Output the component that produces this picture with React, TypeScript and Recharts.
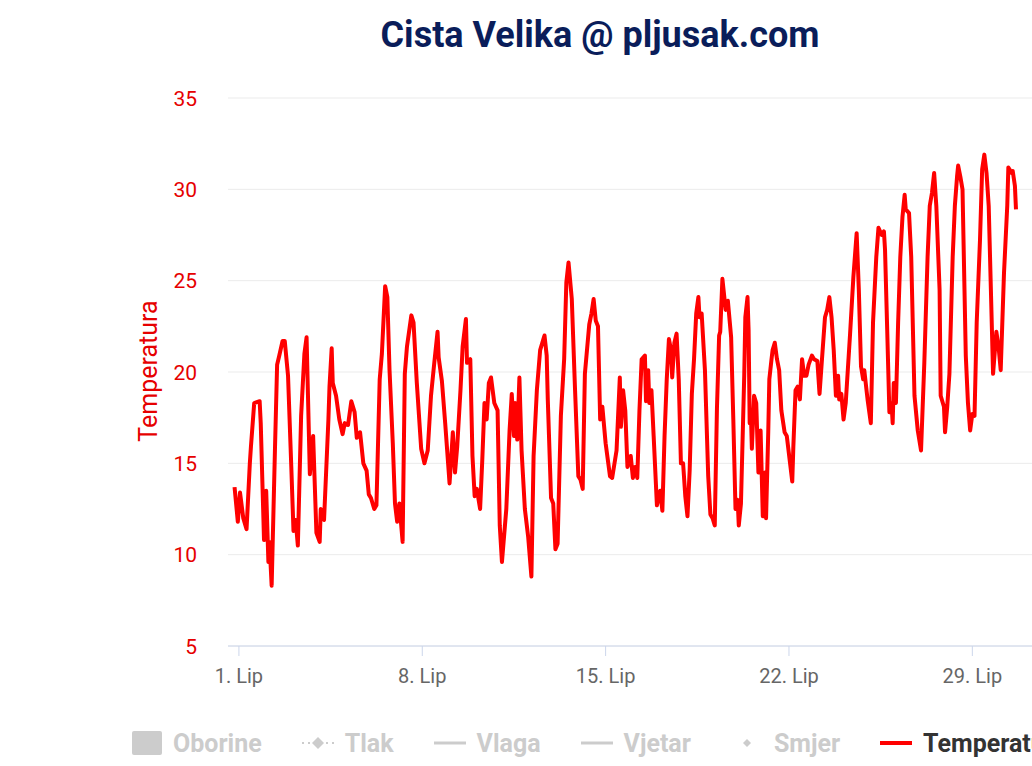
import React from 'react';
import { LineChart, Line, XAxis, YAxis, CartesianGrid } from 'recharts';

// hours since 1 June 00:00, and temperature (°C)
const hours = [
  -4, -1, 1, 4, 7, 10, 11, 14, 19, 20,
  23, 25, 27, 28, 30, 33, 35, 37, 40, 42,
  45, 48, 50, 52, 54, 57, 60, 62, 65, 68,
  71, 74, 75, 78, 82, 83, 85, 86, 89, 92,
  95, 97, 100, 103, 106, 108, 111, 114, 117, 119,
  121, 124, 126, 129, 131, 134, 136, 138, 141, 143,
  145, 147, 150, 152, 154, 158, 160, 163, 167, 170,
  173, 176, 179, 182, 183, 186, 189, 193, 194, 196,
  198, 200, 203, 205, 208, 209, 212, 214, 216, 218,
  221, 223, 225, 227, 229, 231, 234, 237, 239, 241,
  245, 248, 250, 252, 253, 255, 257, 259, 262, 265,
  268, 270, 273, 276, 279, 280, 282, 283, 286, 288,
  290, 292, 295, 298, 300, 302, 305, 308, 311, 313,
  315, 317, 321, 323, 325, 327, 329, 331, 333, 336,
  340, 342, 346, 349, 350, 352, 354, 356, 359, 361,
  363, 365, 367, 369, 372, 373, 375, 376, 378, 380,
  383, 386, 388, 390, 392, 394, 396, 397, 399, 401,
  403, 405, 407, 409, 411, 413, 415, 417, 419, 421,
  422, 424, 427, 430, 432, 434, 436, 438, 440, 441,
  443, 446, 448, 451, 453, 455, 457, 458, 460, 463,
  464, 466, 467, 468, 469, 470, 472, 474, 476, 478,
  480, 482, 483, 485, 486, 488, 489, 491, 493, 495,
  497, 500, 502, 505, 507, 508, 510, 512, 514, 516,
  518, 520, 522, 525, 527, 530, 532, 534, 537, 539,
  541, 543, 545, 547, 549, 550, 552, 554, 556, 560,
  563, 566, 568, 570, 572, 573, 576, 579, 581, 584,
  586, 589, 591, 592, 594, 596, 598, 599, 600, 602,
  604, 606, 608, 610, 611, 614, 616, 619, 622, 625,
  628, 631, 633, 635, 637, 639, 642, 643, 646, 647,
  649, 651, 654, 656, 658, 659, 661, 663, 666, 668,
  670, 672, 674, 676, 679, 681, 683, 685, 687, 689,
  691, 694, 696, 698, 701, 704, 705, 708, 709, 711, 712,
];

const temps = [
  13.7, 11.8, 13.4, 12.0, 11.4, 15.0, 15.9, 18.3, 18.4, 17.2,
  10.8, 13.5, 9.6, 10.7, 8.3, 15.7, 20.4, 20.9, 21.7, 21.7,
  19.8, 14.8, 11.3, 11.9, 10.5, 17.6, 21.0, 21.9, 14.4, 16.5,
  11.2, 10.7, 12.5, 11.9, 17.4, 19.2, 21.3, 19.4, 18.7, 17.4,
  16.6, 17.2, 17.1, 18.4, 17.8, 16.4, 16.7, 15.0, 14.6, 13.3,
  13.1, 12.5, 12.7, 19.6, 21.0, 24.7, 24.1, 20.1, 16.1, 12.8,
  11.8, 12.8, 10.7, 19.9, 21.4, 23.1, 22.7, 19.4, 15.8, 15.0,
  15.7, 18.7, 20.5, 22.2, 20.8, 19.5, 17.2, 13.9, 14.8, 16.7,
  14.5, 15.9, 19.0, 21.4, 22.9, 20.5, 20.7, 15.4, 13.2, 13.6,
  12.5, 15.2, 18.3, 17.4, 19.4, 19.7, 18.3, 17.9, 11.6, 9.6,
  12.5, 16.8, 18.8, 16.5, 18.3, 16.3, 19.7, 15.7, 12.5, 11.0,
  8.8, 15.4, 19.0, 21.2, 21.8, 22.0, 20.9, 18.5, 13.1, 12.8,
  10.3, 10.6, 17.6, 20.7, 24.9, 26.0, 24.0, 19.0, 14.3, 14.1,
  13.6, 19.9, 22.6, 23.2, 24.0, 22.8, 22.5, 17.4, 18.1, 16.1,
  14.3, 14.2, 15.7, 19.7, 17.0, 19.0, 17.9, 14.8, 15.4, 14.2,
  14.8, 14.2, 17.9, 20.7, 20.9, 18.4, 20.1, 18.3, 19.0, 16.5,
  12.7, 13.5, 12.4, 16.5, 19.6, 21.8, 21.2, 19.7, 21.6, 22.1,
  19.6, 15.0, 15.0, 13.2, 12.1, 14.6, 18.8, 20.7, 23.2, 24.1,
  23.0, 23.2, 20.1, 14.3, 12.2, 12.0, 11.6, 18.0, 22.0, 22.2,
  25.1, 23.4, 23.9, 21.9, 17.4, 12.5, 13.0, 11.6, 12.8, 19.8,
  23.0, 24.1, 22.3, 17.2, 17.9, 15.8, 18.7, 18.3, 14.5, 16.8,
  12.1, 14.5, 12.0, 16.7, 19.6, 20.7, 21.2, 21.6, 20.7, 20.1,
  17.9, 16.7, 16.5, 15.0, 14.0, 15.9, 19.0, 19.2, 18.5, 20.7,
  19.8, 19.8, 20.4, 20.9, 20.7, 20.6, 18.8, 20.5, 23.0, 23.4,
  24.1, 23.0, 21.2, 18.7, 19.8, 18.5, 18.8, 17.4, 18.3, 22.1,
  25.2, 27.6, 24.5, 20.3, 19.6, 20.1, 18.5, 17.2, 22.7, 26.3,
  27.9, 27.5, 27.7, 26.7, 22.3, 17.8, 18.3, 17.2, 19.4, 18.3,
  22.7, 26.3, 28.5, 29.7, 28.9, 28.7, 26.3, 18.7, 16.8, 15.7,
  20.5, 26.3, 29.1, 29.8, 30.9, 29.1, 24.5, 18.7, 18.1, 16.7,
  18.1, 19.9, 26.3, 29.1, 30.7, 31.3, 30.7, 30.0, 20.9, 18.3,
  16.8, 17.7, 17.6, 22.7, 27.2, 31.1, 31.9, 30.9, 29.1, 24.5,
  19.9, 22.2, 21.4, 20.1, 25.4, 29.1, 31.2, 30.9, 31.0, 30.2, 28.9,
];

const monthLabel = 'Lip';
const xTicks = [0, 168, 336, 504, 672];
const yTicks = [5, 10, 15, 20, 25, 30, 35];
const legendNames = ['Oborine', 'Tlak', 'Vlaga', 'Vjetar', 'Smjer', 'Temperatura'];
const legendKinds = ['column', 'dotline', 'line', 'line', 'diamond', 'line'];

const data = hours.map((h, i) => ({ h, t: temps[i] }));

const FONT = 'Roboto, "Liberation Sans", sans-serif';
const RED = '#f00';
const AXIS_RED = '#e60000';
const HIDDEN = '#cccccc';

function LegendSymbol({ kind, color }: { kind: string; color: string }) {
  if (kind === 'column') {
    return (
      <svg width={30} height={24}>
        <rect x={0} y={0} width={30} height={24} rx={2} fill={color} />
      </svg>
    );
  }
  return (
    <svg width={32} height={14}>
      {kind === 'dotline' && (
        <line x1={0} x2={32} y1={7} y2={7} stroke={color} strokeWidth={2} strokeDasharray="2 4" />
      )}
      {kind === 'line' && <line x1={0} x2={32} y1={7} y2={7} stroke={color} strokeWidth={color === RED ? 4 : 3} />}
      {(kind === 'dotline' || kind === 'diamond') && (
        <path d={kind === 'dotline' ? 'M16 1 L22 7 L16 13 L10 7 Z' : 'M16 3 L20 7 L16 11 L12 7 Z'} fill={color} />
      )}
    </svg>
  );
}

const YTick = ({ y, payload }: any) => (
  <text x={197} y={y} dy={7.5} textAnchor="end" fill={AXIS_RED} fontSize={21} fontFamily={FONT}>
    {payload.value}
  </text>
);

export default function App() {
  return (
    <div
      style={{
        position: 'absolute',
        left: 0,
        top: 0,
        width: 1032,
        height: 766,
        overflow: 'hidden',
        background: '#fff',
        fontFamily: FONT,
      }}
    >
      <div
        style={{
          position: 'absolute',
          left: 0,
          top: 17,
          width: 1200,
          textAlign: 'center',
          fontSize: 36,
          lineHeight: '36px',
          fontWeight: 700,
          color: '#0a1d5a',
        }}
      >
        Cista Velika @ pljusak.com
      </div>
      <div style={{ position: 'absolute', left: 0, top: 0 }}>
        <LineChart width={1200} height={766} data={data} margin={{ top: 98, right: 160, left: 0, bottom: 80 }}>
          <CartesianGrid vertical={false} stroke="#ebebeb" strokeWidth={1} />
          <XAxis
            dataKey="h"
            type="number"
            domain={[-10, 734]}
            ticks={xTicks}
            allowDataOverflow
            height={40}
            tickSize={10}
            tickMargin={13}
            stroke="#ccd6eb"
            tickLine={{ stroke: '#ccd6eb' }}
            axisLine={{ stroke: '#ccd6eb' }}
            tick={{ fill: '#666666', fontSize: 20, fontFamily: FONT }}
            tickFormatter={(v: number) => `${v / 24 + 1}. ${monthLabel}`}
          />
          <YAxis
            type="number"
            domain={[5, 35]}
            ticks={yTicks}
            width={228}
            axisLine={false}
            tickLine={false}
            tick={<YTick />}
            label={{
              content: () => (
                <text
                  transform="translate(157, 371) rotate(-90)"
                  textAnchor="middle"
                  fill={AXIS_RED}
                  fontSize={25}
                  fontFamily={FONT}
                >
                  Temperatura
                </text>
              ),
            }}
          />
          <Line
            type="linear"
            dataKey="t"
            stroke={RED}
            strokeWidth={4}
            strokeLinejoin="round"
            dot={false}
            activeDot={false}
            isAnimationActive={false}
          />
        </LineChart>
      </div>
      <div
        style={{
          position: 'absolute',
          left: 132,
          top: 728,
          height: 30,
          display: 'flex',
          alignItems: 'center',
          whiteSpace: 'nowrap',
        }}
      >
        {legendNames.map((name, i) => {
          const active = name === 'Temperatura';
          const color = active ? RED : HIDDEN;
          return (
            <div key={name} style={{ display: 'flex', alignItems: 'center', marginRight: 40 }}>
              <LegendSymbol kind={legendKinds[i]} color={color} />
              <span
                style={{
                  marginLeft: 11,
                  fontSize: 25,
                  fontWeight: 700,
                  color: active ? '#333333' : HIDDEN,
                }}
              >
                {name}
              </span>
            </div>
          );
        })}
      </div>
    </div>
  );
}
